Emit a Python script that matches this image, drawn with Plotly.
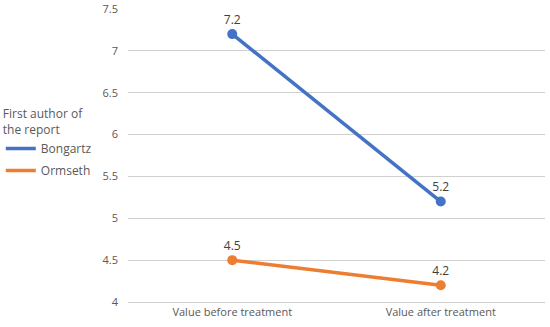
import plotly.graph_objects as go

categories = ["Value before treatment", "Value after treatment"]
series_names = ["Bongartz", "Ormseth"]
bongartz = [7.2, 5.2]
ormseth = [4.5, 4.2]
colors = ["#4472C4", "#ED7D31"]
y_ticks = [4, 4.5, 5, 5.5, 6, 6.5, 7, 7.5]

fig = go.Figure()
for name, vals, col in zip(series_names, [bongartz, ormseth], colors):
    fig.add_trace(go.Scatter(x=categories, y=vals, mode="lines", name=name, legendgroup=name,
                             line=dict(color=col, width=3.5)))
    fig.add_trace(go.Scatter(x=categories, y=vals, mode="markers+text", showlegend=False,
                             legendgroup=name,
                             marker=dict(color=col, size=10),
                             text=[str(v) for v in vals], textposition="top center",
                             textfont=dict(size=12, color="#404040"), hoverinfo="skip"))

font = "Open Sans, Liberation Sans, sans-serif"
fig.update_layout(
    width=550, height=327,
    margin=dict(l=128, r=5, t=9, b=25, autoexpand=False),
    plot_bgcolor="white", paper_bgcolor="white",
    font=dict(family=font, size=11, color="#595959"),
    legend=dict(
        title=dict(text="First author of<br>the report", font=dict(size=12, color="#595959")),
        x=-0.305, xanchor="left", y=0.68, yanchor="top",
        font=dict(size=12, color="#595959"),
        tracegroupgap=3, itemwidth=30,
        bgcolor="rgba(0,0,0,0)",
    ),
    xaxis=dict(showgrid=False, showline=True, linecolor="#D0D0D0", ticks="", automargin=False,
               range=[-0.5, 1.5], tickfont=dict(size=11, color="#595959")),
    yaxis=dict(range=[4, 7.5001], tickmode="array", tickvals=y_ticks,
               ticktext=[f"{v:g}" for v in y_ticks],
               showgrid=True, gridcolor="#D0D0D0", gridwidth=1, automargin=False,
               zeroline=False, showline=False, ticklabelstandoff=9,
               tickfont=dict(size=11, color="#595959")),
)
fig.write_html("out.html", config={"displayModeBar": False},
               post_script="document.body.style.margin='0';")
